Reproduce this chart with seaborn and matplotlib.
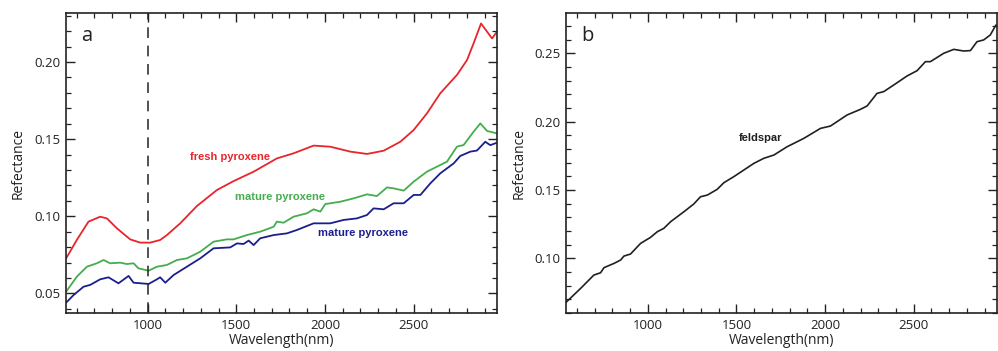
import numpy as np
import pandas as pd
import matplotlib
matplotlib.use("Agg")
import matplotlib.pyplot as plt
import seaborn as sns
from matplotlib.ticker import MultipleLocator

# ---- data ----
wl_fresh = [541, 601, 667, 733, 771, 827, 902, 959, 1015, 1071, 1109, 1184, 1278, 1391, 1485,
            1598, 1729, 1823, 1936, 2030, 2143, 2237, 2331, 2425, 2500, 2575, 2650, 2744,
            2801, 2838, 2880, 2942, 2970]
fresh_pyroxene = [0.0727, 0.0846, 0.0965, 0.0997, 0.0986, 0.0922, 0.0850, 0.0829, 0.0829, 0.0846,
                  0.0878, 0.0954, 0.1066, 0.1170, 0.1228, 0.1289, 0.1375, 0.1408, 0.1458, 0.1451,
                  0.1419, 0.1404, 0.1425, 0.1483, 0.1559, 0.1667, 0.1797, 0.1916, 0.2013, 0.2121,
                  0.2250, 0.2153, 0.2197]

wl_mature1 = [541, 601, 658, 714, 752, 789, 846, 883, 921, 949, 1006, 1053, 1109, 1165, 1222,
              1297, 1372, 1447, 1485, 1560, 1635, 1711, 1729, 1767, 1823, 1898, 1936, 1974,
              2002, 2086, 2162, 2237, 2293, 2350, 2387, 2444, 2500, 2575, 2650, 2688, 2744,
              2782, 2838, 2876, 2914, 2970]
mature_pyroxene_1 = [0.0511, 0.0608, 0.0673, 0.0695, 0.0716, 0.0695, 0.0699, 0.0690, 0.0695, 0.0662,
                     0.0647, 0.0673, 0.0684, 0.0716, 0.0727, 0.0770, 0.0835, 0.0850, 0.0850, 0.0878,
                     0.0900, 0.0932, 0.0965, 0.0958, 0.0997, 0.1019, 0.1045, 0.1030, 0.1079, 0.1094,
                     0.1116, 0.1142, 0.1131, 0.1187, 0.1181, 0.1166, 0.1224, 0.1289, 0.1332, 0.1354,
                     0.1451, 0.1462, 0.1548, 0.1602, 0.1553, 0.1537]

wl_mature2 = [541, 583, 639, 677, 733, 780, 836, 893, 921, 1006, 1053, 1071, 1100, 1147, 1222,
              1297, 1372, 1466, 1504, 1541, 1570, 1598, 1635, 1711, 1786, 1842, 1936, 2030,
              2105, 2180, 2237, 2274, 2331, 2387, 2444, 2500, 2538, 2594, 2650, 2726, 2763,
              2820, 2857, 2904, 2932, 2970]
mature_pyroxene_2 = [0.0440, 0.0489, 0.0543, 0.0555, 0.0591, 0.0604, 0.0565, 0.0613, 0.0569, 0.0561,
                     0.0591, 0.0604, 0.0569, 0.0619, 0.0673, 0.0727, 0.0792, 0.0798, 0.0824, 0.0820,
                     0.0842, 0.0813, 0.0857, 0.0878, 0.0889, 0.0911, 0.0954, 0.0954, 0.0976, 0.0986,
                     0.1008, 0.1051, 0.1045, 0.1084, 0.1084, 0.1138, 0.1138, 0.1213, 0.1278, 0.1343,
                     0.1391, 0.1419, 0.1426, 0.1483, 0.1461, 0.1477]

wl_feldspar = [536, 620, 695, 733, 752, 808, 846, 865, 902, 959, 1015, 1053, 1090, 1128, 1203,
               1259, 1297, 1335, 1391, 1429, 1485, 1541, 1598, 1654, 1711, 1786, 1880, 1974,
               2030, 2124, 2199, 2237, 2293, 2331, 2387, 2462, 2519, 2566, 2594, 2669, 2726,
               2782, 2820, 2857, 2895, 2932, 2964]
feldspar = [0.0676, 0.0780, 0.0878, 0.0895, 0.0932, 0.0963, 0.0988, 0.1017, 0.1032, 0.1110,
            0.1154, 0.1195, 0.1220, 0.1268, 0.1341, 0.1398, 0.1451, 0.1463, 0.1505, 0.1554,
            0.1598, 0.1646, 0.1695, 0.1732, 0.1756, 0.1817, 0.1878, 0.1951, 0.1968, 0.2049,
            0.2090, 0.2115, 0.2207, 0.2220, 0.2268, 0.2334, 0.2373, 0.2439, 0.2439, 0.2500,
            0.2529, 0.2517, 0.2520, 0.2585, 0.2598, 0.2634, 0.2707]

x_ticks = [1000, 1500, 2000, 2500]
y_ticks_a = [0.05, 0.10, 0.15, 0.20]
y_ticks_b = [0.10, 0.15, 0.20, 0.25]
panel_labels = ["a", "b"]

# ---- style ----
sns.set_style("ticks")
plt.rcParams['font.family'] = ['Open Sans', 'DejaVu Sans']

RED = "#e8252b"
GREEN = "#45ad4e"
BLUE = "#1b1f8e"
BLACK = "#231f20"

fig = plt.figure(figsize=(9.98, 3.51), dpi=100)
ax_a = fig.add_axes([0.0661, 0.108, 0.4319, 0.855])
ax_b = fig.add_axes([0.5675, 0.108, 0.4315, 0.855])

df_fresh = pd.DataFrame({"wl": wl_fresh, "r": fresh_pyroxene})
df_m1 = pd.DataFrame({"wl": wl_mature1, "r": mature_pyroxene_1})
df_m2 = pd.DataFrame({"wl": wl_mature2, "r": mature_pyroxene_2})
df_f = pd.DataFrame({"wl": wl_feldspar, "r": feldspar})

sns.lineplot(data=df_fresh, x="wl", y="r", ax=ax_a, color=RED, lw=1.3)
sns.lineplot(data=df_m1, x="wl", y="r", ax=ax_a, color=GREEN, lw=1.3)
sns.lineplot(data=df_m2, x="wl", y="r", ax=ax_a, color=BLUE, lw=1.3)
ax_a.axvline(1000, color="#222222", lw=1.1, dashes=(7, 5))

sns.lineplot(data=df_f, x="wl", y="r", ax=ax_b, color=BLACK, lw=1.2)

lab_font = dict(family=['Liberation Sans', 'DejaVu Sans'], fontsize=8, fontweight="bold")
ax_a.text(1466, 0.1386, "fresh pyroxene", color=RED, ha="center", va="center", **lab_font)
ax_a.text(1744, 0.1123, "mature pyroxene", color=GREEN, ha="center", va="center", **lab_font)
ax_a.text(2212, 0.0889, "mature pyroxene", color=BLUE, ha="center", va="center", **lab_font)
ax_b.text(1635, 0.188, "feldspar", color=BLACK, ha="center", va="center", **lab_font)

for ax, yt, ylim, lab in [(ax_a, y_ticks_a, (0.0372, 0.2318), panel_labels[0]),
                          (ax_b, y_ticks_b, (0.060, 0.2795), panel_labels[1])]:
    ax.set_xlim(540, 2970)
    ax.set_ylim(*ylim)
    ax.set_xticks(x_ticks)
    ax.set_yticks(yt)
    ax.set_yticklabels([f"{v:.2f}" for v in yt])
    ax.xaxis.set_minor_locator(MultipleLocator(100))
    ax.yaxis.set_minor_locator(MultipleLocator(0.01))
    ax.tick_params(which="major", direction="in", length=6.5, width=1.0,
                   top=True, right=True, labelsize=9.5, colors="#222222", pad=4)
    ax.tick_params(which="minor", direction="in", length=3.5, width=0.9,
                   top=True, right=True, colors="#222222")
    for s in ax.spines.values():
        s.set_visible(True)
        s.set_linewidth(1.2)
        s.set_color("#222222")
    ax.set_xlabel("Wavelength(nm)", fontsize=10, color="#222222", labelpad=1)
    ax.set_ylabel("Refectance", fontsize=10, color="#222222", labelpad=6)
    ax.text(0.035, 0.955, lab, transform=ax.transAxes, fontsize=14.5, va="top", ha="left",
            color="#222222")

fig.savefig("out.png", dpi=100)
